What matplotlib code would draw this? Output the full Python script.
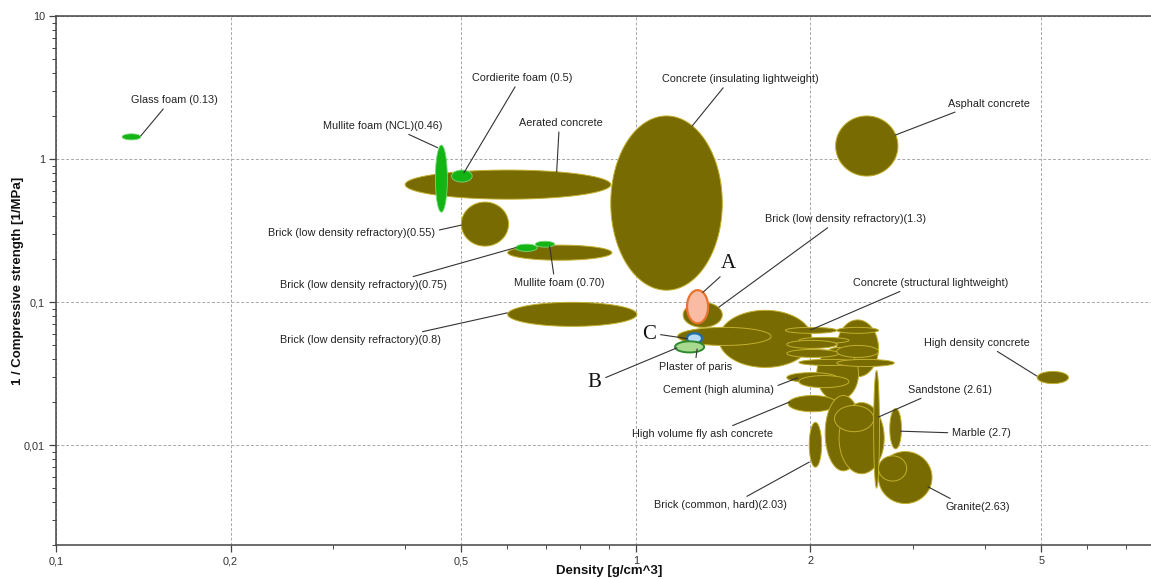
import numpy as np
import matplotlib
matplotlib.use('Agg')
import matplotlib.pyplot as plt
from matplotlib.ticker import FixedLocator, FixedFormatter, NullFormatter

plt.rcParams['font.family'] = ['Liberation Sans', 'DejaVu Sans']

# material bubbles: density range [g/cm^3] and 1/compressive strength range [1/MPa]
# drawn back to front
kind = ['olive', 'olive', 'olive', 'olive', 'olive', 'olive',
        'olive', 'olive', 'olive',
        'olive', 'olive',
        'olive', 'olive', 'olive', 'olive', 'olive', 'olive', 'olive', 'olive',
        'olive', 'olive', 'olive',
        'olive', 'olive', 'olive', 'olive', 'olive', 'olive', 'olive', 'olive', 'olive',
        'green', 'green', 'green', 'green', 'green',
        'A', 'C', 'B']
dens_lo = [0.400, 0.500, 0.601, 0.601, 0.905, 2.21,
           1.206, 1.39, 1.18,
           2.22, 2.05,
           1.81, 1.91, 1.82, 1.82, 1.91, 2.22, 2.22, 2.22,
           1.82, 1.91, 1.83,
           2.12, 2.24, 2.20, 2.57, 1.99, 2.74, 2.62, 2.62, 4.92,
           0.130, 0.451, 0.481, 0.620, 0.671,
           1.225, 1.225, 1.168]
dens_hi = [0.905, 0.603, 0.909, 1.004, 1.409, 2.83,
           1.409, 2.01, 1.71,
           2.62, 2.42,
           2.22, 2.33, 2.22, 2.24, 2.42, 2.62, 2.62, 2.79,
           2.22, 2.33, 2.22,
           2.45, 2.68, 2.57, 2.63, 2.09, 2.87, 3.24, 2.93, 5.57,
           0.140, 0.473, 0.522, 0.676, 0.724,
           1.332, 1.30, 1.311]
inv_lo = [0.524, 0.246, 0.196, 0.0676, 0.121, 0.760,
          0.0665, 0.0349, 0.0497,
          0.0300, 0.0205,
          0.0604, 0.0514, 0.0474, 0.0410, 0.0360, 0.0604, 0.0410, 0.0354,
          0.0274, 0.0252, 0.0171,
          0.0066, 0.0063, 0.0124, 0.0050, 0.0070, 0.0094, 0.0039, 0.0056, 0.0269,
          1.36, 0.425, 0.690, 0.226, 0.242,
          0.071, 0.0514, 0.0444]
inv_hi = [0.837, 0.500, 0.250, 0.0995, 2.0, 2.0,
          0.0995, 0.0875, 0.0665,
          0.0750, 0.0481,
          0.0665, 0.0566, 0.0539, 0.0466, 0.0397, 0.0665, 0.0497, 0.0397,
          0.0321, 0.0306, 0.0222,
          0.0222, 0.0198, 0.0189, 0.0332, 0.0144, 0.0180, 0.0090, 0.0084, 0.0327,
          1.50, 1.25, 0.837, 0.254, 0.266,
          0.121, 0.0604, 0.0531]

# labels, the point each leader line runs to, and where the text sits
labels = ['Glass foam (0.13)', 'Mullite foam (NCL)(0.46)', 'Cordierite foam (0.5)',
          'Aerated concrete', 'Concrete (insulating lightweight)', 'Asphalt concrete',
          'Brick (low density refractory)(0.55)', 'Brick (low density refractory)(0.75)',
          'Mullite foam (0.70)', 'Brick (low density refractory)(0.8)',
          'Brick (low density refractory)(1.3)', 'Plaster of paris',
          'Cement (high alumina)', 'High volume fly ash concrete',
          'Brick (common, hard)(2.03)', 'Concrete (structural lightweight)',
          'High density concrete', 'Sandstone (2.61)', 'Marble (2.7)', 'Granite(2.63)']
label_dens = [0.140, 0.455, 0.505, 0.73, 1.25, 2.80,
              0.50, 0.62, 0.71, 0.60,
              1.39, 1.275,
              1.90, 1.84,
              1.99, 2.00,
              4.91, 2.62, 2.86, 3.19]
label_inv = [1.45, 1.20, 0.80, 0.81, 1.70, 1.47,
             0.345, 0.24, 0.245, 0.084,
             0.092, 0.047,
             0.0295, 0.020,
             0.0076, 0.0637,
             0.0304, 0.0157, 0.0125, 0.0051]
label_pos = [(0.108, 0.841), (0.298, 0.792), (0.426, 0.883),
             (0.461, 0.798), (0.625, 0.881), (0.852, 0.834),
             (0.270, 0.590), (0.281, 0.492),
             (0.460, 0.495), (0.278, 0.388),
             (0.721, 0.616), (0.584, 0.337),
             (0.605, 0.293), (0.590, 0.210),
             (0.607, 0.076), (0.799, 0.495),
             (0.841, 0.382), (0.816, 0.293), (0.845, 0.212), (0.842, 0.072)]
label_rel = [(0.41, 0), (0.66, 0), (0.45, 0), (0.48, 0), (0.41, 0), (0.19, 0),
             (1, 0.7), (0.73, 1), (0.44, 1), (0.80, 1),
             (0.42, 0), (0.5, 1),
             (1, 0.8), (0.66, 1), (0.65, 1), (0.35, 0),
             (0.64, 0), (0.25, 0), (0, 0.5), (0.17, 1)]

# A, B, C markers
letters = ['A', 'C', 'B']
letter_dens = [1.305, 1.226, 1.177]
letter_inv = [0.117, 0.0555, 0.0478]
letter_pos = [(0.614, 0.532), (0.542, 0.397), (0.492, 0.308)]
letter_rel = [(0.3, 0.05), (1, 0.55), (1, 0.65)]

xticks = [0.1, 0.2, 0.5, 1, 2, 5]
xtick_labels = ['0,1', '0,2', '0,5', '1', '2', '5']
yticks = [0.01, 0.1, 1, 10]
ytick_labels = ['0,01', '0,1', '1', '10']

styles = {
    'olive': dict(fc='#776b02', ec='#c2af2c', lw=0.7),
    'green': dict(fc='#14b414', ec='#7ad87a', lw=0.6),
    'A': dict(fc='#f9bba4', ec='#e8732f', lw=1.6),
    'C': dict(fc='#b5dcf2', ec='#1f6fb0', lw=1.6),
    'B': dict(fc='#a9d88f', ec='#2e8a2e', lw=1.4),
}

fig = plt.figure(figsize=(11.51, 5.79), dpi=100)
ax = fig.add_axes([56 / 1151, 34 / 579, 1095 / 1151, 529 / 579])
ax.set_xscale('log')
ax.set_yscale('log')
ax.set_xlim(0.1, 7.73)
ax.set_ylim(0.002, 10)

t = np.linspace(0, 2 * np.pi, 240)
for k, x0, x1, y0, y1 in zip(kind, dens_lo, dens_hi, inv_lo, inv_hi):
    cx, rx = (np.log10(x0) + np.log10(x1)) / 2, (np.log10(x1) - np.log10(x0)) / 2
    cy, ry = (np.log10(y0) + np.log10(y1)) / 2, (np.log10(y1) - np.log10(y0)) / 2
    ax.fill(10 ** (cx + rx * np.cos(t)), 10 ** (cy + ry * np.sin(t)), zorder=2, **styles[k])

line_kw = dict(arrowstyle='-', color='#333333', lw=0.8, shrinkA=1, shrinkB=0)
for txt, x, y, pos, rel in zip(labels, label_dens, label_inv, label_pos, label_rel):
    ax.annotate(txt, xy=(x, y), xytext=pos, textcoords='axes fraction',
                ha='center', va='center', fontsize=7.8, color='#222222', zorder=4,
                arrowprops=dict(relpos=rel, **line_kw))
for txt, x, y, pos, rel in zip(letters, letter_dens, letter_inv, letter_pos, letter_rel):
    ax.annotate(txt, xy=(x, y), xytext=pos, textcoords='axes fraction',
                ha='center', va='center', fontsize=15, color='#111111',
                family=['Liberation Serif', 'DejaVu Serif'], zorder=4,
                arrowprops=dict(relpos=rel, **line_kw))

ax.xaxis.set_major_locator(FixedLocator(xticks))
ax.xaxis.set_major_formatter(FixedFormatter(xtick_labels))
ax.xaxis.set_minor_locator(FixedLocator([0.3, 0.4, 0.6, 0.7, 0.8, 0.9, 3, 4, 6, 7]))
ax.xaxis.set_minor_formatter(NullFormatter())
ax.yaxis.set_major_locator(FixedLocator(yticks))
ax.yaxis.set_major_formatter(FixedFormatter(ytick_labels))
ax.yaxis.set_minor_locator(FixedLocator([m * 10.0 ** e for e in range(-3, 1) for m in range(2, 10)]))
ax.yaxis.set_minor_formatter(NullFormatter())
ax.tick_params(which='major', length=5, width=0.9, color='#444444', labelsize=7.8,
               labelcolor='#333333', pad=3)
ax.tick_params(which='minor', length=3, width=0.7, color='#444444')

ax.grid(True, which='major', color='#a8a8a8', lw=0.7, ls=(0, (3, 2)))
ax.set_axisbelow(True)
for side in ['left', 'bottom', 'top']:
    ax.spines[side].set_color('#444444')
    ax.spines[side].set_linewidth(1.1)
ax.spines['right'].set_visible(False)

ax.set_xlabel('Density [g/cm^3]', fontsize=9.5, fontweight='bold', color='#111111')
ax.set_ylabel('1 / Compressive strength [1/MPa]', fontsize=9.5, fontweight='bold', color='#111111')
ax.xaxis.set_label_coords(0.505, -0.037)
ax.yaxis.set_label_coords(-0.029, 0.5)

fig.savefig('out.png', dpi=100)
